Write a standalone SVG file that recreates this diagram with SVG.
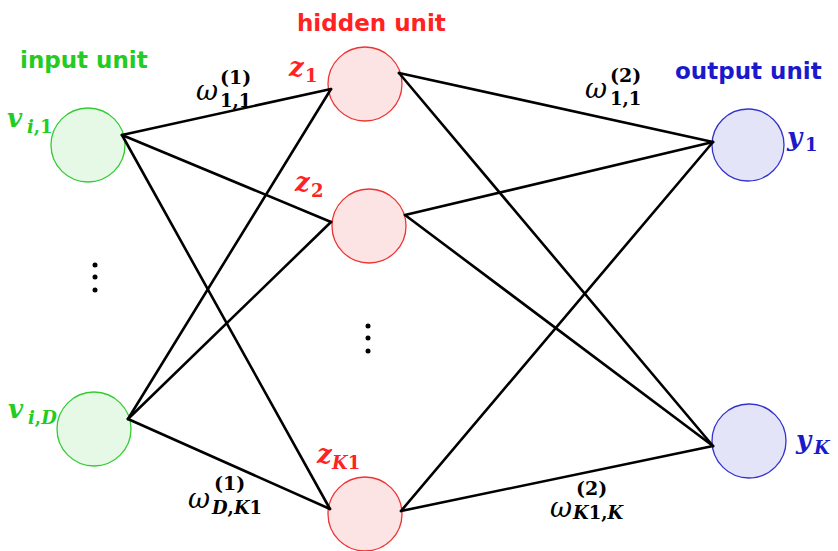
<svg xmlns="http://www.w3.org/2000/svg" width="838" height="551" viewBox="0 0 838 551">
<style>
.t{font-family:"DejaVu Sans",sans-serif;font-weight:bold;font-size:23px}
.m{font-family:"DejaVu Serif",serif;font-weight:bold;font-style:italic;font-size:26px}
.s{font-family:"DejaVu Serif",serif;font-weight:bold;font-size:18px}
.p{font-size:19px}
.w{font-family:"DejaVu Serif",serif;font-style:italic;font-size:27px;fill:#000}
.i{font-style:italic}
.g{fill:#22cc22}.r{fill:#ff2222}.b{fill:#1a1acc}.k{fill:#000}
.ng{fill:#e6f8e6;stroke:#33cc33;stroke-width:1.3}
.nr{fill:#fde4e4;stroke:#ee3333;stroke-width:1.3}
.nb{fill:#e4e4f8;stroke:#3333cc;stroke-width:1.3}
#edges line{stroke:#000;stroke-width:2.6;stroke-linecap:round}
</style>
<rect width="838" height="551" fill="#fff"/>
<text class="t g" x="20" y="68">input unit</text>
<text class="t r" x="297" y="31">hidden unit</text>
<text class="t b" x="675" y="79">output unit</text>

<g id="in1"><circle class="ng" cx="88" cy="145" r="37"/><text class="m g" x="7" y="127">v</text><text class="s g" x="27" y="133"><tspan class="i">i</tspan>,1</text></g>
<g id="inD"><circle class="ng" cx="94" cy="429" r="37"/><text class="m g" x="8" y="418">v</text><text class="s g" x="28" y="424"><tspan class="i">i</tspan>,<tspan class="i">D</tspan></text></g>
<g id="z1"><circle class="nr" cx="365" cy="84" r="37"/><text class="m r" x="289" y="76">z</text><text class="s r" x="305" y="82">1</text></g>
<g id="z2"><circle class="nr" cx="369" cy="226" r="37"/><text class="m r" x="295" y="191">z</text><text class="s r" x="311" y="197">2</text></g>
<g id="zK1"><circle class="nr" cx="365" cy="514" r="37"/><text class="m r" x="317" y="463">z</text><text class="s r" x="332" y="469"><tspan class="i">K</tspan>1</text></g>
<g id="y1"><circle class="nb" cx="748" cy="145" r="36"/><text class="m b" x="787" y="146">y</text><text class="s b" x="805" y="151">1</text></g>
<g id="yK"><circle class="nb" cx="749" cy="441" r="37"/><text class="m b" x="796" y="449">y</text><text class="s b i" x="814" y="454">K</text></g>

<g id="edges">
<line x1="122" y1="135" x2="331" y2="89"/>
<line x1="122" y1="135" x2="331" y2="222"/>
<line x1="122" y1="135" x2="330" y2="509"/>
<line x1="128" y1="419" x2="331" y2="89"/>
<line x1="128" y1="419" x2="331" y2="222"/>
<line x1="128" y1="419" x2="330" y2="509"/>
<line x1="399" y1="73" x2="713" y2="142"/>
<line x1="399" y1="73" x2="713" y2="446"/>
<line x1="405" y1="215" x2="713" y2="142"/>
<line x1="405" y1="215" x2="713" y2="446"/>
<line x1="401" y1="511" x2="713" y2="142"/>
<line x1="401" y1="511" x2="713" y2="446"/>
</g>

<g id="labels">
<text class="w" x="196" y="100">ω</text><text class="s k p" x="220" y="84">(1)</text><text class="s k" x="220" y="107">1,1</text>
<text class="w" x="585" y="98">ω</text><text class="s k p" x="610" y="82">(2)</text><text class="s k" x="610" y="105">1,1</text>
<text class="w" x="188" y="508">ω</text><text class="s k p" x="214" y="490">(1)</text><text class="s k" x="212" y="514"><tspan class="i">D</tspan>,<tspan class="i">K</tspan>1</text>
<text class="w" x="550" y="517">ω</text><text class="s k p" x="576" y="495">(2)</text><text class="s k" x="573" y="519"><tspan class="i">K</tspan>1,<tspan class="i">K</tspan></text>
</g>

<g id="dots" fill="#000">
<circle cx="95" cy="265" r="2.5"/><circle cx="95" cy="277" r="2.5"/><circle cx="95" cy="290" r="2.5"/>
<circle cx="368" cy="326" r="2.5"/><circle cx="368" cy="338" r="2.5"/><circle cx="368" cy="351" r="2.5"/>
</g>
</svg>
